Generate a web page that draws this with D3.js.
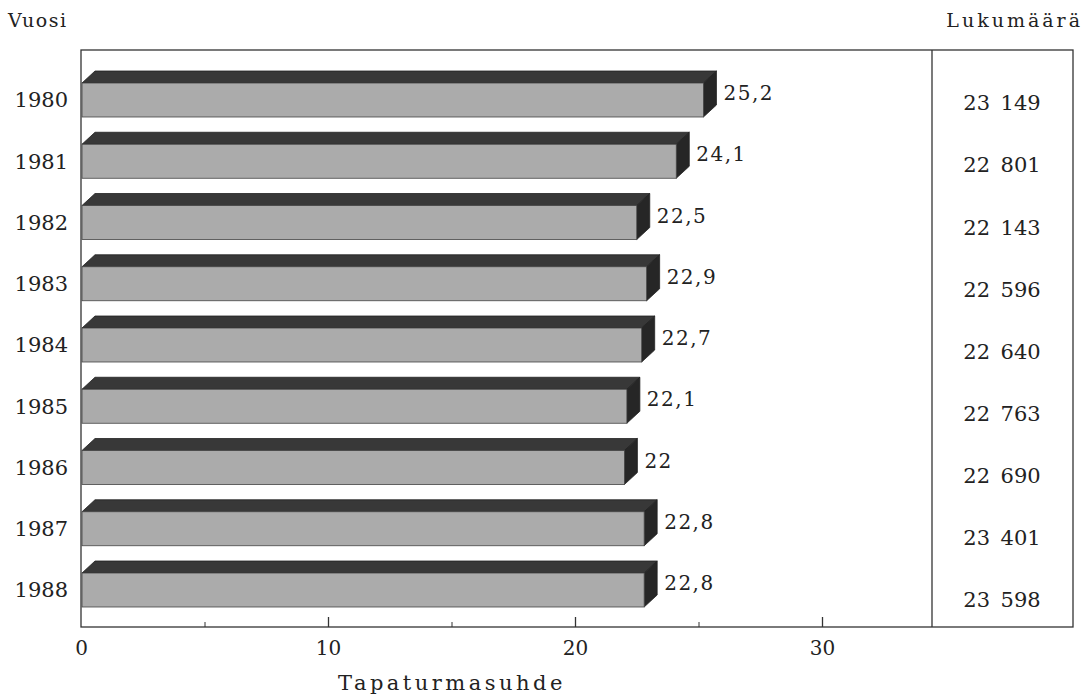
<!DOCTYPE html>
<html><head><meta charset="utf-8">
<script src="https://cdn.jsdelivr.net/npm/d3@7"></script>
<style>
html,body{margin:0;padding:0;background:#fff;}
text{font-family:"DejaVu Serif",serif;fill:#222;}
</style></head>
<body>
<svg id="chart" width="1085" height="696"></svg>
<script>
const years = ["1980","1981","1982","1983","1984","1985","1986","1987","1988"];
const rates = [25.2, 24.1, 22.5, 22.9, 22.7, 22.1, 22, 22.8, 22.8];
const counts = [23149, 22801, 22143, 22596, 22640, 22763, 22690, 23401, 23598];
const majorTicks = [0, 10, 20, 30];
const minorTicks = [5, 15, 25];
const xTitle = "Tapaturmasuhde";
const yTitle = "Vuosi";
const countTitle = "Lukumäärä";

const svg = d3.select("#chart");
const fL = 81, fR = 1073, fT = 50, fB = 627, divider = 932;
const x = d3.scaleLinear().domain([0, 30]).range([fL, 822]);
const y = d3.scalePoint().domain(years).range([100, 590]);
const yc = d3.scalePoint().domain(years).range([103, 600]);
const loc = d3.formatLocale({decimal: ",", thousands: "\u2002", grouping: [3], currency: ["", ""]});
const fmtRate = loc.format(".3~r");
const fmtCount = loc.format(",d");

// frame
svg.append("rect").attr("x", fL).attr("y", fT).attr("width", fR - fL).attr("height", fB - fT)
  .attr("fill", "none").attr("stroke", "#333").attr("stroke-width", 1.3);
svg.append("line").attr("x1", divider).attr("x2", divider).attr("y1", fT).attr("y2", fB)
  .attr("stroke", "#333").attr("stroke-width", 1.3);

// bars
const h = 34, dx = 13, dy = 12;
const g = svg.append("g");
years.forEach((yr, i) => {
  const x0 = x(0) + 1, xv = x(rates[i]);
  const t = y(yr) - h / 2, b = y(yr) + h / 2;
  g.append("path").attr("d", `M${x0},${t} L${x0 + dx},${t - dy} L${xv + dx},${t - dy} L${xv},${t} Z`)
    .attr("fill", "#383838").attr("stroke", "#222").attr("stroke-width", 0.8);
  g.append("path").attr("d", `M${xv},${t} L${xv + dx},${t - dy} L${xv + dx},${b - dy} L${xv},${b} Z`)
    .attr("fill", "#262626").attr("stroke", "#222").attr("stroke-width", 0.8);
  g.append("rect").attr("x", x0).attr("y", t).attr("width", xv - x0).attr("height", h)
    .attr("fill", "#ababab").attr("stroke", "#444").attr("stroke-width", 0.8);
  g.append("text").attr("x", xv + dx + 7).attr("y", y(yr) - 7).attr("dy", "0.35em")
    .attr("font-size", 20).attr("letter-spacing", 1.5).text(fmtRate(rates[i]));
});

// year labels
svg.append("g").selectAll("text").data(years).join("text")
  .attr("x", 68).attr("y", d => y(d)).attr("dy", "0.35em").attr("text-anchor", "end")
  .attr("font-size", 21).text(d => d);

// counts
svg.append("g").selectAll("text").data(years).join("text")
  .attr("x", 1002).attr("y", d => yc(d)).attr("dy", "0.35em").attr("text-anchor", "middle")
  .attr("font-size", 21).text((d, i) => fmtCount(counts[i]));

// axes
const ax = svg.append("g").attr("transform", `translate(0,${fB})`)
  .call(d3.axisBottom(x).tickValues(majorTicks).tickSize(-10).tickPadding(14).tickFormat(d => d));
ax.select(".domain").remove();
ax.selectAll("text").attr("font-size", 20).attr("font-family", "DejaVu Serif").attr("fill", "#222");
ax.selectAll("line").attr("stroke", "#333").attr("stroke-width", 1.3);
ax.selectAll(".tick").filter(d => d === 0).select("line").remove();
const axm = svg.append("g").attr("transform", `translate(0,${fB})`)
  .call(d3.axisBottom(x).tickValues(minorTicks).tickSize(-5).tickFormat(""));
axm.select(".domain").remove();
axm.selectAll("line").attr("stroke", "#333").attr("stroke-width", 1);

// titles
svg.append("text").attr("x", 8).attr("y", 27).attr("font-size", 19).attr("letter-spacing", 1.5).text(yTitle);
svg.append("text").attr("x", 1083).attr("y", 27).attr("text-anchor", "end").attr("font-size", 19).attr("letter-spacing", 3).text(countTitle);
svg.append("text").attr("x", 452).attr("y", 690).attr("text-anchor", "middle").attr("font-size", 21).attr("letter-spacing", 3.5).text(xTitle);
</script>
</body></html>
